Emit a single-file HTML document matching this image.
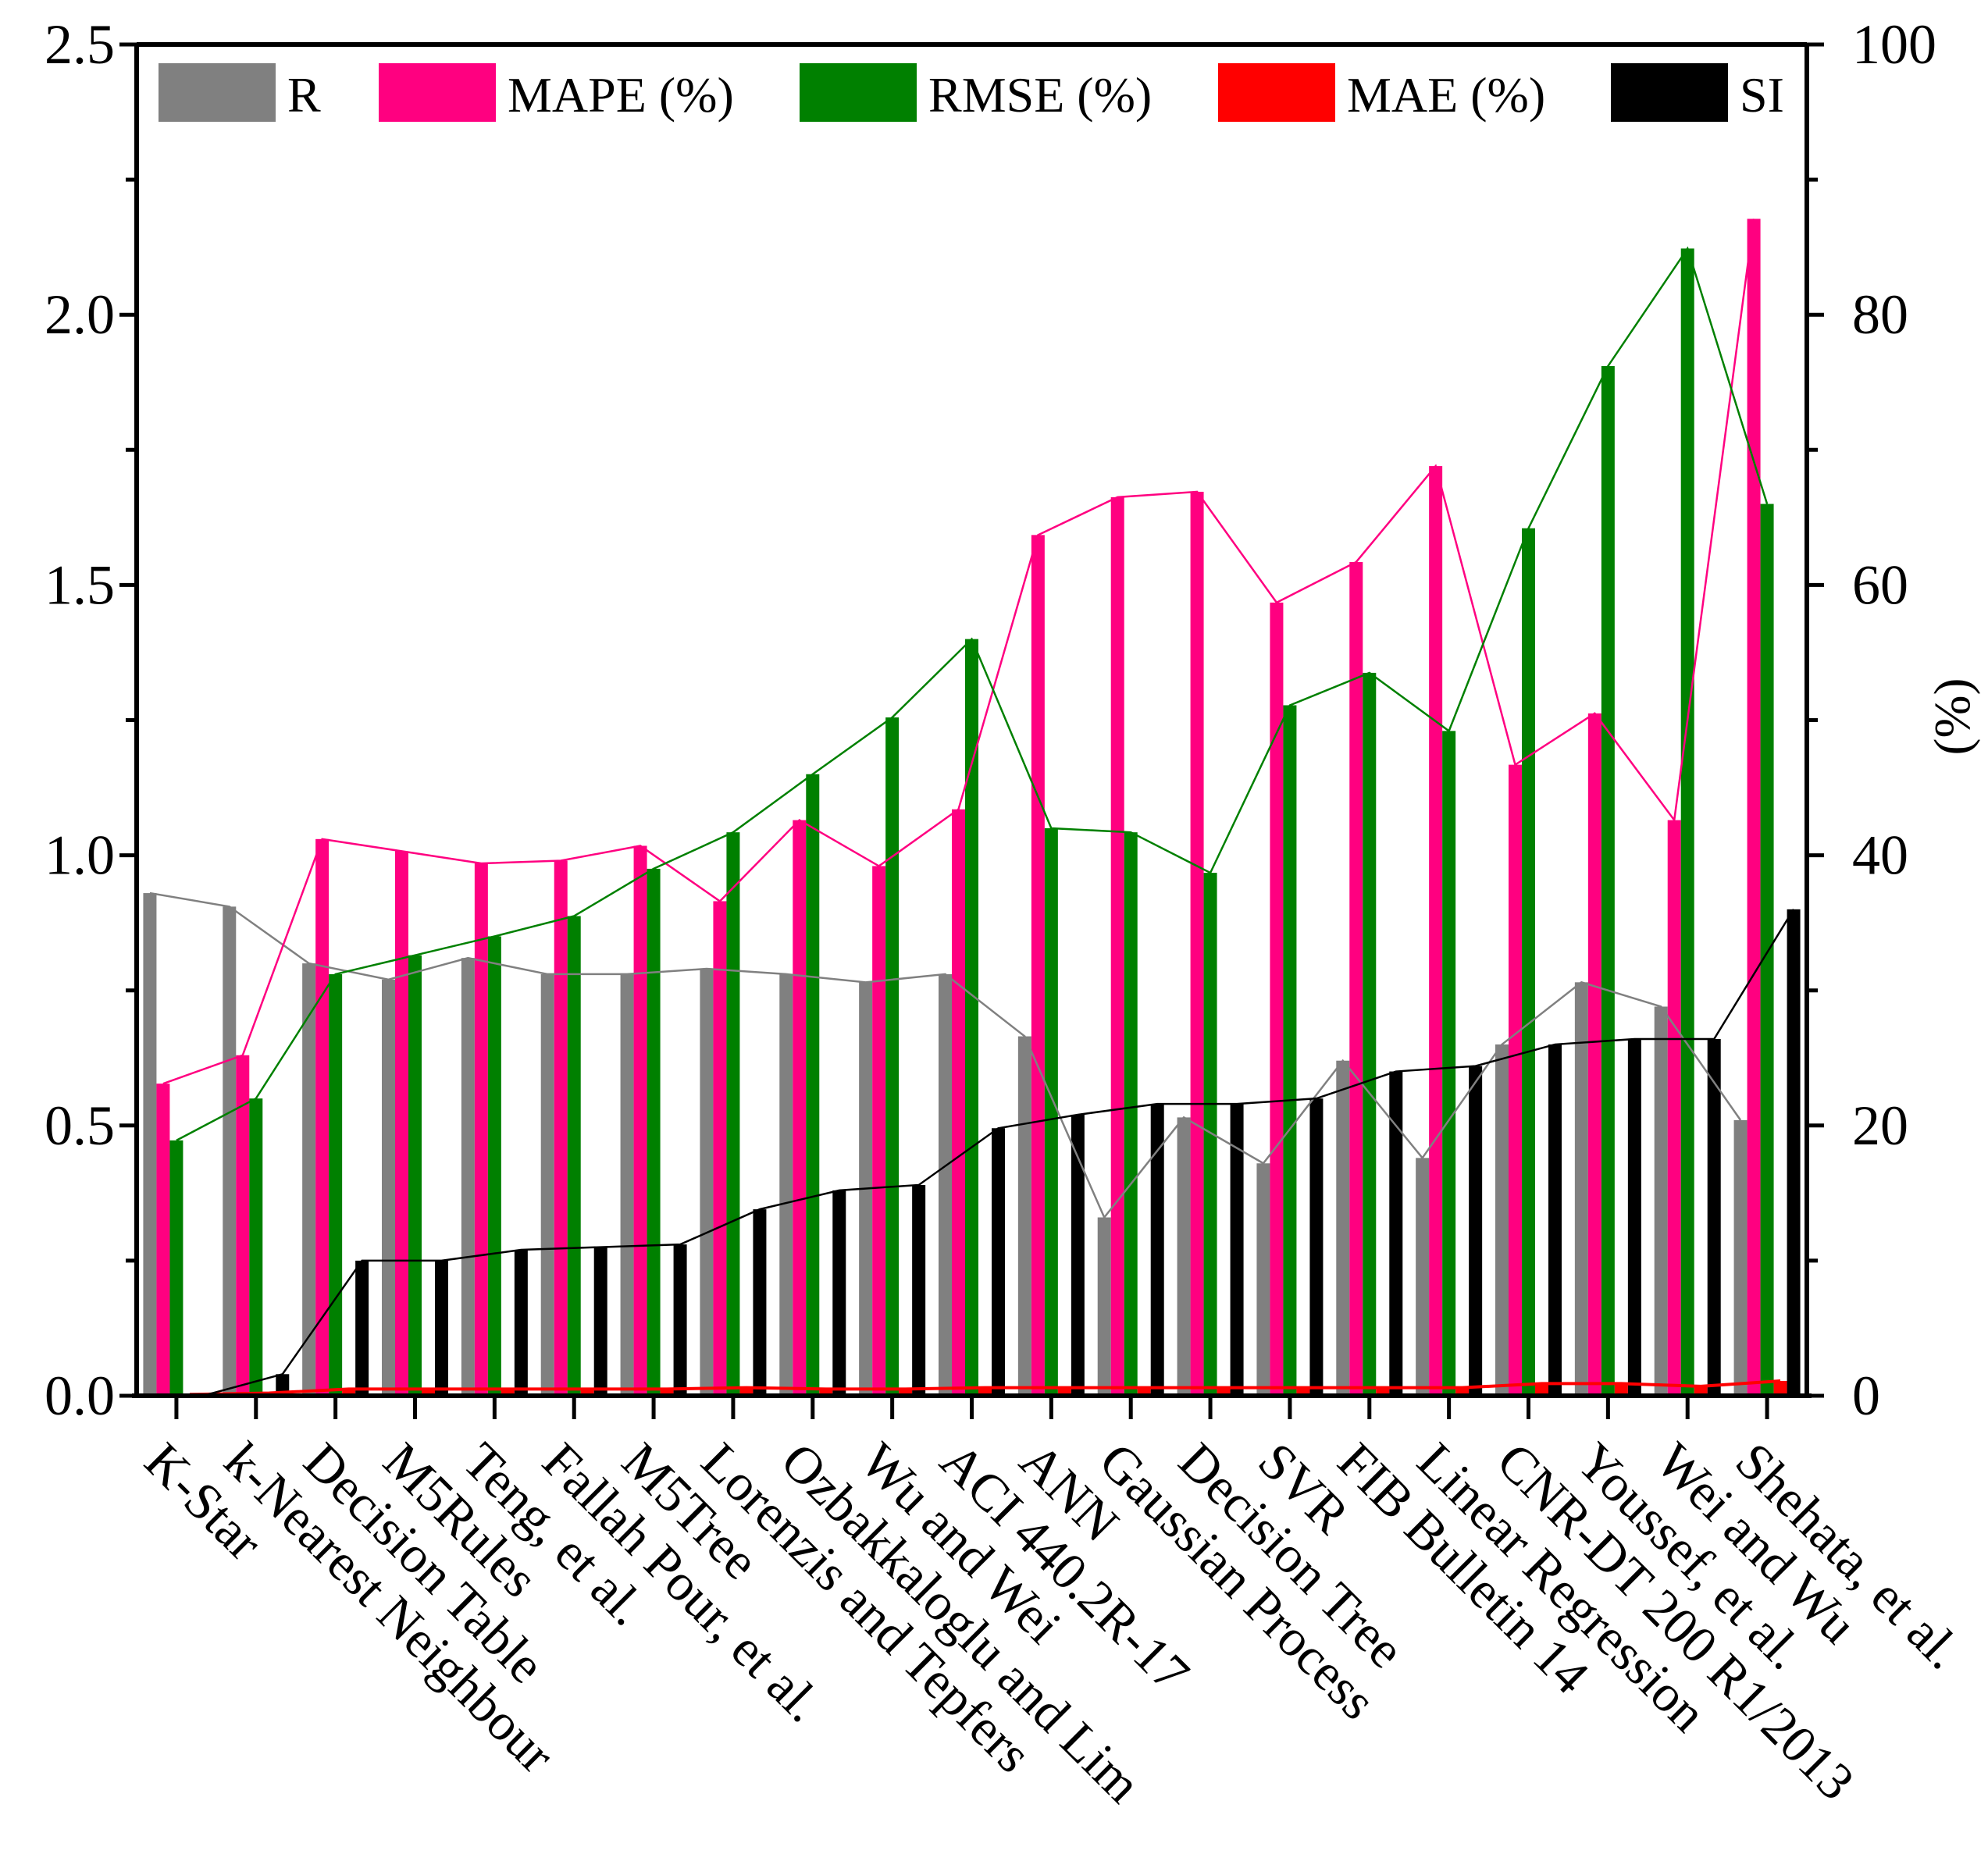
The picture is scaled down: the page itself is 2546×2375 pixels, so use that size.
<!DOCTYPE html>
<html><head><meta charset="utf-8"><style>
html,body{margin:0;padding:0;background:#fff;}
svg{display:block;font-family:"Liberation Serif",serif;}
</style></head><body>
<svg id="chart" width="2546" height="2375" viewBox="0 0 2546 2375" xmlns="http://www.w3.org/2000/svg"></svg>
<script>
const categories = ["K-Star","k-Nearest Neighbour","Decision Table","M5Rules","Teng, et al.","Fallah Pour, et al.","M5Tree","Lorenzis and Tepfers","Ozbakkaloglu and Lim","Wu and Wei","ACI 440.2R-17","ANN","Gaussian Process","Decision Tree","SVR","FIB Bulletin 14","Linear Regression","CNR-DT 200 R1/2013","Youssef, et al.","Wei and Wu","Shehata, et al."];
const rValues = [0.93,0.905,0.80,0.77,0.81,0.78,0.78,0.79,0.78,0.765,0.78,0.665,0.33,0.515,0.43,0.62,0.44,0.65,0.765,0.72,0.51];
const mapeValues = [23.1,25.2,41.2,40.3,39.4,39.6,40.7,36.6,42.6,39.2,43.4,63.7,66.5,66.9,58.7,61.7,68.8,46.7,50.5,42.6,87.1];
const rmseValues = [18.9,22.0,31.2,32.6,34.0,35.5,39.0,41.7,46.0,50.2,56.0,42.0,41.7,38.7,51.1,53.5,49.2,64.2,76.2,84.9,66.0];
const maeValues = [0.1,0.2,0.5,0.5,0.5,0.5,0.5,0.6,0.5,0.5,0.6,0.6,0.6,0.6,0.6,0.6,0.6,0.9,0.9,0.7,1.1];
const siValues = [0.0,0.04,0.25,0.25,0.27,0.275,0.28,0.345,0.38,0.39,0.495,0.52,0.54,0.54,0.55,0.60,0.61,0.65,0.66,0.66,0.90];
const leftTicks = ["0.0","0.5","1.0","1.5","2.0","2.5"];
const rightTicks = ["0","20","40","60","80","100"];

const NS="http://www.w3.org/2000/svg";
const svg=document.getElementById('chart');
const L=175,R=2314,T=57,B=1788;
const step=(R-L)/categories.length, bw=17;
function yl(v){return B-(v/2.5)*(B-T);}
function yr(v){return B-(v/100)*(B-T);}
function xc(i){return L+step*(i+0.5);}
function mk(tag,attrs){const e=document.createElementNS(NS,tag);for(const k in attrs)e.setAttribute(k,attrs[k]);svg.appendChild(e);return e;}

const series=[
 {name:'r',vals:rValues,fy:yl,col:'#808080',off:-2},
 {name:'mape',vals:mapeValues,fy:yr,col:'#ff0080',off:-1},
 {name:'rmse',vals:rmseValues,fy:yr,col:'#008000',off:0},
 {name:'mae',vals:maeValues,fy:yr,col:'#ff0000',off:1},
 {name:'si',vals:siValues,fy:yl,col:'#000000',off:2}
];
series.forEach(s=>{
  s.vals.forEach((v,i)=>{
    const x=xc(i)+s.off*bw-bw/2, y=s.fy(v);
    const b=mk('rect',{x:x,y:y,width:bw,height:B-y,fill:s.col});
    
    
  });
});
series.forEach(s=>{
  const pts=s.vals.map((v,i)=>(xc(i)+s.off*bw)+','+s.fy(v)).join(' ');
  const p=mk('polyline',{points:pts,fill:'none',stroke:s.col,'stroke-width':s.name==='mae'?4:2.5});
  
  
});
const ax=mk('path',{d:`M${L},${T}H${R}M${L},${T}V${B}M${R},${T}V${B}M${L-6},${B}H${R+6}`,stroke:'#000','stroke-width':6,fill:'none'});


let d='';
for(let k=0;k<=10;k++){const y=B-k*(B-T)/10;const len=k%2===0?22:14;d+=`M${L},${y}H${L-len}M${R},${y}H${R+len}`;}
categories.forEach((c,i)=>{d+=`M${xc(i)},${B}V${B+30}`;});
const tk=mk('path',{d:d,stroke:'#000','stroke-width':5,fill:'none'});


leftTicks.forEach((t,k)=>{
  const e=mk('text',{x:L-28,y:yl(k*0.5)+24,'text-anchor':'end','font-size':72});
  e.textContent=t;
  
  
});
rightTicks.forEach((t,k)=>{
  const e=mk('text',{x:R+58,y:yr(k*20)+24,'text-anchor':'start','font-size':72});
  e.textContent=t;
  
  
});
categories.forEach((c,i)=>{
  const x=xc(i)-44,y=1876;
  const e=mk('text',{x:x,y:y,'font-size':67,transform:`rotate(45 ${x} ${y})`});
  e.textContent=c;
  
  
});
const yt=mk('text',{x:2522,y:918,'font-size':66,'text-anchor':'middle',transform:'rotate(-90 2522 918)'});
yt.textContent='(%)';


const leg=[['R','#808080',203],['MAPE (%)','#ff0080',485],['RMSE (%)','#008000',1024],['MAE (%)','#ff0000',1560],['SI','#000000',2063]];
leg.forEach(l=>{
  const r=mk('rect',{x:l[2],y:81,width:150,height:75,fill:l[1]});
  
  
  const t=mk('text',{x:l[2]+165,y:143,'font-size':64});
  t.textContent=l[0];
  
  
});
</script>
</body></html>
